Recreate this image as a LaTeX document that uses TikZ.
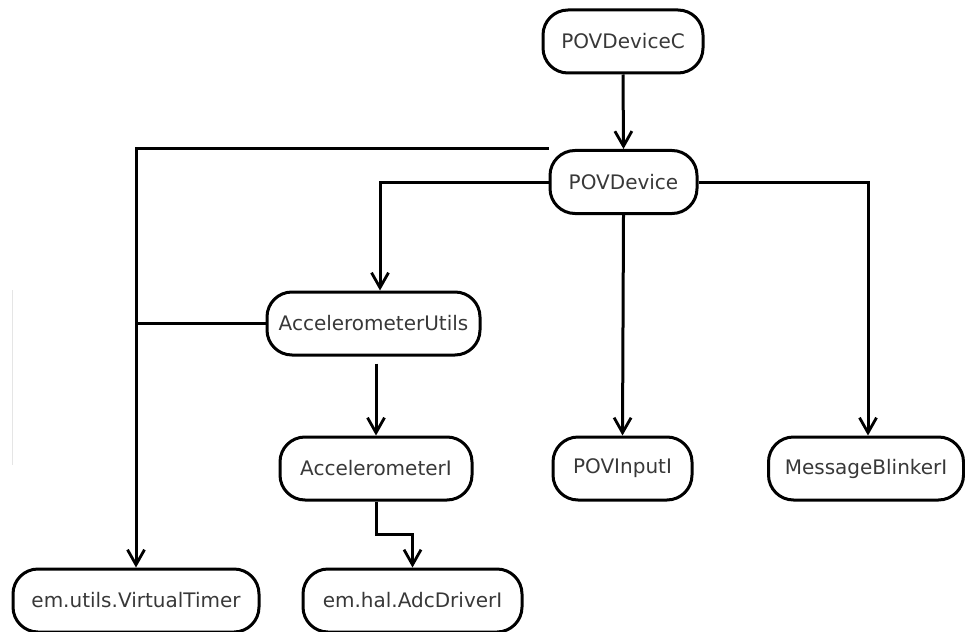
\documentclass[tikz,border=0pt]{standalone}
\usepackage{fontspec}
\setmainfont{DejaVu Sans}
\usetikzlibrary{arrows.meta}
\begin{document}
\begin{tikzpicture}[x=1pt,y=-1pt,
  box/.style={draw=black,line width=3pt,rounded corners=25pt,minimum height=63pt,
    inner sep=0pt,text=black!78,font=\fontsize{20}{24}\selectfont},
  conn/.style={draw=black,line width=3pt},
  arr/.style={conn,-{Straight Barb[length=15pt,width=17pt,line width=2.8pt]}}]
\useasboundingbox (0,0) rectangle (965,631);
\node[box,minimum width=160pt] (C) at (623,41.5) {POVDeviceC};
\node[box,minimum width=147pt] (D) at (623.5,182) {POVDevice};
\node[box,minimum width=213pt] (U) at (373.5,323.5) {AccelerometerUtils};
\node[box,minimum width=192pt] (AI) at (376,468.5) {AccelerometerI};
\node[box,minimum width=219pt] (AD) at (412.5,600.5) {em.hal.AdcDriverI};
\node[box,minimum width=246pt] (VT) at (136,600.5) {em.utils.VirtualTimer};
\node[box,minimum width=139pt] (PI) at (622.5,468.5) {POVInputI};
\node[box,minimum width=195pt] (MB) at (866,468.5) {MessageBlinkerI};
\draw[black!10,line width=1pt] (12,290) -- (12,465);
\draw[arr] (C.south) -- (D.north);
\draw[arr] (D.north west) -| (VT.north);
\draw[arr] (D.west) -| ([xshift=6.5pt]U.north);
\draw[conn] (U.west) -- (U.west -| VT.north);
\draw[arr] ([yshift=-7pt]U.south -| AI.north) -- (AI.north);
\draw[arr] (AI.south) -- ++(0,33) -| (AD.north);
\draw[arr] (D.south) -- (PI.north);
\draw[arr] (D.east) -| ([xshift=2pt]MB.north);
\end{tikzpicture}
\end{document}
